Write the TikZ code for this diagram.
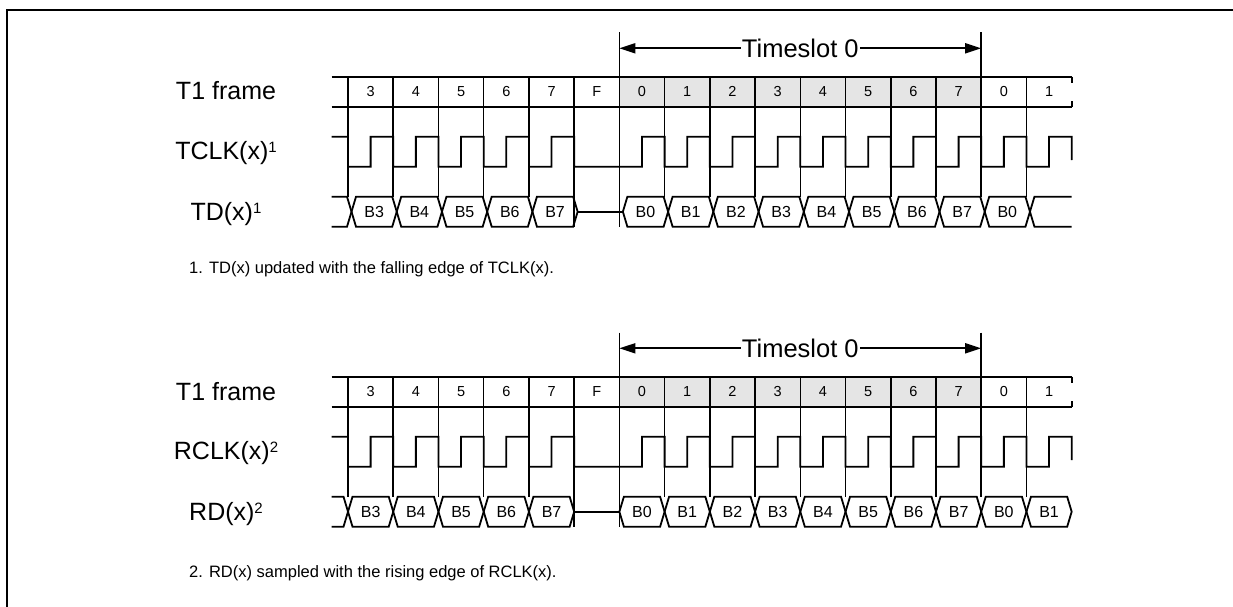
\documentclass[tikz,border=0pt]{standalone}
\usepackage{fontspec}
\setmainfont{Liberation Sans}
\usetikzlibrary{arrows.meta}

\newcommand{\fnmark}[1]{\raisebox{7.5pt}{\fontsize{15}{15}\selectfont #1}}
% first slot edge, slot width, left and right end of the traces
\newcommand{\slotx}{348}
\newcommand{\slotw}{45.23}
\newcommand{\tracel}{331.7}
\newcommand{\tracer}{1071.7}

\begin{document}
\begin{tikzpicture}[x=1pt,y=-1pt,
  wave/.style={line width=1.8pt},
  gridline/.style={line width=1.6pt},
  slotnum/.style={inner sep=0pt,font=\fontsize{14.5}{14.5}\selectfont},
  bitname/.style={inner sep=0pt,font=\fontsize{16}{16}\selectfont},
  signame/.style={inner sep=0pt,anchor=base,font=\fontsize{25}{25}\selectfont},
  note/.style={inner sep=0pt,anchor=base west,font=\fontsize{16.5}{16.5}\selectfont},
  span/.style={line width=1.8pt,-{Triangle[length=16pt,width=10pt]}}
]
  \useasboundingbox (0,0) rectangle (1233,607);

  % Frame
  \draw[line width=2.6pt] (7,607) -- (7,10) -- (1233,10);

  % Parts shared by the transmit and the receive diagram
  \foreach \s/\sy/\clk/\mk in {1/0/TCLK/1,2/300/RCLK/2}{
    \begin{scope}[shift={(0,\sy)}]
      % Timeslot 0
      \fill[gray!20] ({\slotx+6*\slotw},76.7) rectangle ({\slotx+14*\slotw},106.7);
      \coordinate (tsl\s) at ({\slotx+6*\slotw},48.3);
      \coordinate (tsr\s) at ({\slotx+14*\slotw},48.3);
      \node[inner sep=1pt,font=\fontsize{25.5}{25.5}\selectfont] (ts\s) at ({\slotx+10*\slotw},48.3) {Timeslot 0};
      \draw[span] (ts\s) -- (tsl\s);
      \draw[span] (ts\s) -- (tsr\s);
      \draw[gridline] ({\slotx+6*\slotw},32.5) -- ({\slotx+6*\slotw},226.7);
      \draw[gridline] ({\slotx+14*\slotw},32.5) -- ({\slotx+14*\slotw},196.7);

      % T1 frame
      \draw[wave] (\tracel,76.7) -- (\tracer,76.7) (\tracel,106.7) -- (\tracer,106.7);
      \draw[wave] (\tracer,76.7) -- ++(0,6) (\tracer,106.7) -- ++(0,-6);
      \foreach \n [count=\k from 0] in {3,4,5,6,7,F,0,1,2,3,4,5,6,7,0,1}
        \node[slotnum] (slot\s-\k) at ({\slotx+(\k+0.5)*\slotw},91.7) {\n};
      \foreach \k in {0,...,15}
        \draw[gridline] ({\slotx+\k*\slotw},76.7) -- ({\slotx+\k*\slotw},196.7);
      \draw[gridline] ({\slotx+5*\slotw},196.7) -- ({\slotx+5*\slotw},226.7);

      % Clock, held low during the F bit
      \draw[wave] (\tracel,136.7)
        \foreach \k in {0,...,4}{ -- ({\slotx+\k*\slotw},136.7) -- ({\slotx+\k*\slotw},166.7)
          -- ({\slotx+(\k+0.5)*\slotw},166.7) -- ({\slotx+(\k+0.5)*\slotw},136.7) }
        -- ({\slotx+5*\slotw},136.7) -- ({\slotx+5*\slotw},166.7)
        \foreach \k in {6,...,15}{ -- ({\slotx+\k*\slotw},166.7) -- ({\slotx+(\k+0.5)*\slotw},166.7)
          -- ({\slotx+(\k+0.5)*\slotw},136.7) -- ({\slotx+(\k+1)*\slotw},136.7) }
        -- (\tracer,160);

      % Signal names
      \node[signame] (frame\s) at (226,100) {T1 frame};
      \node[signame] (clk\s) at (226,159.5) {\clk(x)\fnmark{\mk}};
    \end{scope}
  }

  % TD(x), changes just after the falling edge
  \node[signame] (tdname) at (226,220.7) {TD(x)\fnmark{1}};
  \draw[wave] (\tracel,196.7) -- ({\slotx-1},196.7) -- ({\slotx+3.5},211.7) -- ({\slotx-1},226.7) -- (\tracel,226.7);
  \foreach \b [count=\k from 0] in {B3,B4,B5,B6,B7}{
    \draw[wave] ({\slotx+\k*\slotw+3.5},211.7) -- ++(4.5,-15) -- ({\slotx+(\k+1)*\slotw-1},196.7)
      -- ++(4.5,15) -- ++(-4.5,15) -- ({\slotx+\k*\slotw+8},226.7) -- cycle;
    \node[bitname] (td\k) at ({\slotx+(\k+0.5)*\slotw+3.5},211.7) {\b};
  }
  \draw[wave] ({\slotx+5*\slotw+3.5},211.7) -- ({\slotx+6*\slotw+3.5},211.7);
  \foreach \b [count=\k from 6] in {B0,B1,B2,B3,B4,B5,B6,B7,B0}{
    \draw[wave] ({\slotx+\k*\slotw+3.5},211.7) -- ++(4.5,-15) -- ({\slotx+(\k+1)*\slotw-1},196.7)
      -- ++(4.5,15) -- ++(-4.5,15) -- ({\slotx+\k*\slotw+8},226.7) -- cycle;
    \node[bitname] (td\k) at ({\slotx+(\k+0.5)*\slotw+3.5},211.7) {\b};
  }
  \draw[wave] (\tracer,196.7) -- ({\slotx+15*\slotw+8},196.7) -- ({\slotx+15*\slotw+3.5},211.7)
    -- ({\slotx+15*\slotw+8},226.7) -- (\tracer,226.7);
  \node[note] (note1) at (189,273) {1. TD(x) updated with the falling edge of TCLK(x).};

  % RD(x), sampled on the rising edge
  \node[signame] (rdname) at (226,520.7) {RD(x)\fnmark{2}};
  \draw[wave] (\tracel,496.7) -- ({\slotx-4.5},496.7) -- (\slotx,511.7) -- ({\slotx-4.5},526.7) -- (\tracel,526.7);
  \foreach \b [count=\k from 0] in {B3,B4,B5,B6,B7}{
    \draw[wave] ({\slotx+\k*\slotw},511.7) -- ++(4.5,-15) -- ({\slotx+(\k+1)*\slotw-4.5},496.7)
      -- ++(4.5,15) -- ++(-4.5,15) -- ({\slotx+\k*\slotw+4.5},526.7) -- cycle;
    \node[bitname] (rd\k) at ({\slotx+(\k+0.5)*\slotw},511.7) {\b};
  }
  \draw[wave] ({\slotx+5*\slotw},511.7) -- ({\slotx+6*\slotw},511.7);
  \foreach \b [count=\k from 6] in {B0,B1,B2,B3,B4,B5,B6,B7,B0,B1}{
    \draw[wave] ({\slotx+\k*\slotw},511.7) -- ++(4.5,-15) -- ({\slotx+(\k+1)*\slotw-4.5},496.7)
      -- ++(4.5,15) -- ++(-4.5,15) -- ({\slotx+\k*\slotw+4.5},526.7) -- cycle;
    \node[bitname] (rd\k) at ({\slotx+(\k+0.5)*\slotw},511.7) {\b};
  }
  \node[note] (note2) at (189,577) {2. RD(x) sampled with the rising edge of RCLK(x).};
\end{tikzpicture}
\end{document}
